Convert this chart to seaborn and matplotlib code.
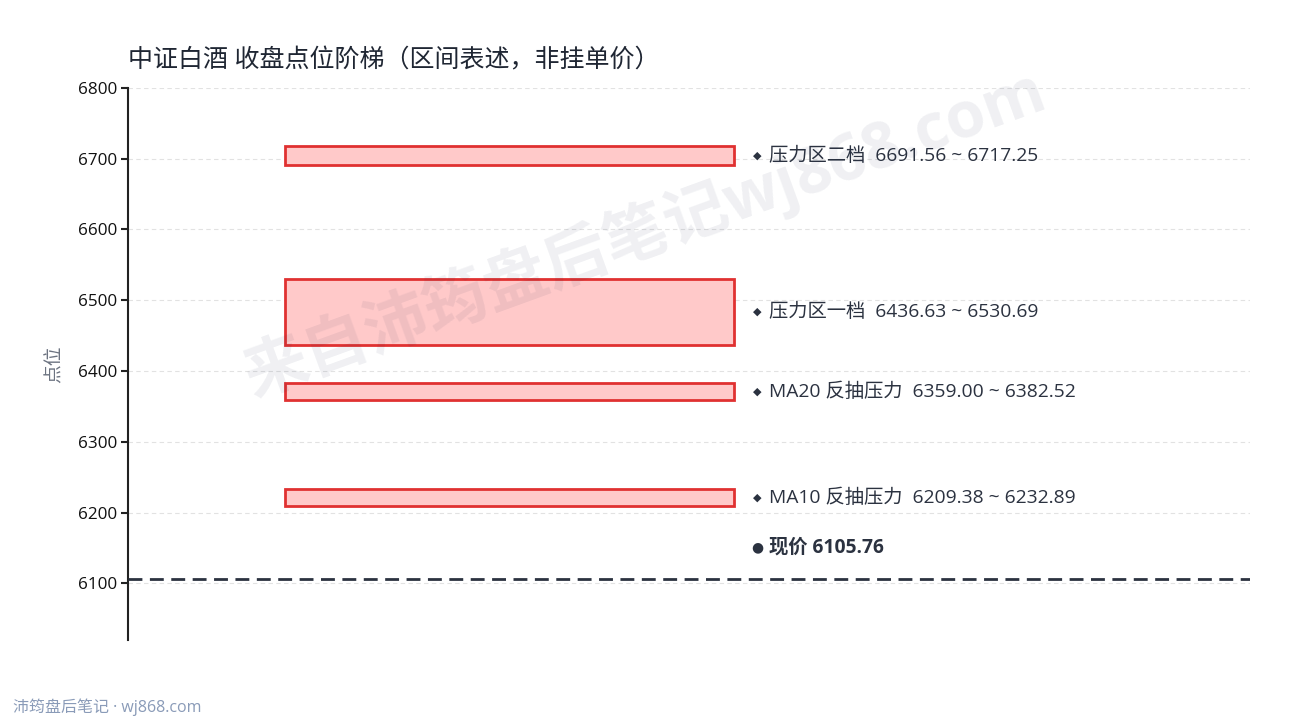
import seaborn as sns
import numpy as np
import matplotlib.pyplot as plt

# 区间数据
zone_names = ["压力区二档", "压力区一档", "MA20 反抽压力", "MA10 反抽压力"]
zone_low = [6691.56, 6436.63, 6359.00, 6209.38]
zone_high = [6717.25, 6530.69, 6382.52, 6232.89]
price = 6105.76
y_ticks = [6100, 6200, 6300, 6400, 6500, 6600, 6700, 6800]

sns.set_theme(style="white")
fams = ['Open Sans', 'Noto Sans CJK SC', 'DejaVu Sans']
plt.rcParams['font.family'] = fams
plt.rcParams['axes.unicode_minus'] = False

ink = "#2b3240"
fig = plt.figure(figsize=(12.9, 7.2), dpi=100)
ax = fig.add_axes([0.0992, 0.111, 0.8698, 0.767])

ax.set_xlim(0, 1)
ax.set_ylim(6020, 6800)
ax.set_yticks(y_ticks)
ax.yaxis.grid(True, color="#e2e2e2", linestyle=(0, (4, 3)), linewidth=0.8)
ax.set_axisbelow(True)

lows = np.array(zone_low)
highs = np.array(zone_high)
ax.bar(np.full(len(lows), 0.34), highs - lows, bottom=lows, width=0.4,
       color="#ffc9c9", edgecolor="#e03131", linewidth=2, zorder=2)

for name, lo, hi in zip(zone_names, lows, highs):
    mid = (lo + hi) / 2
    ax.text(0.5605, mid, "◆", fontsize=8, color=ink, va="center", ha="center",
            zorder=4, family=['DejaVu Sans'])
    ax.text(0.571, mid, f"{name}  {lo:.2f} ~ {hi:.2f}",
            fontsize=13.9, color=ink, va="center", ha="left", zorder=4)

ax.axhline(price, color=ink, linestyle=(0, (5, 2.7)), linewidth=2, zorder=3)
ax.text(0.5605, price + 45, "●", fontsize=10, color=ink, va="center",
        ha="center", zorder=4, family=['DejaVu Sans'])
ax.text(0.571, price + 45, f"现价 {price:.2f}", fontsize=13.9, fontweight="bold",
        color=ink, va="center", ha="left", zorder=4)

sns.despine(ax=ax, top=True, right=True, bottom=True)
ax.spines["left"].set_color("#222222")
ax.spines["left"].set_linewidth(1.5)
ax.set_xticks([])
ax.tick_params(axis="y", left=True, length=5, width=1.5, color="#222222",
               labelsize=12.3, labelcolor="#111111", pad=3)
ax.set_ylabel("点位", fontsize=13.5, color="#6b7280", labelpad=10)
ax.set_title("中证白酒 收盘点位阶梯（区间表述，非挂单价）", loc="left",
             fontsize=18, color="#1f2633", pad=15, x=0.0)

# 水印
fig.text(0.5, 0.675, "来自沛筠盘后笔记wj868.com", fontsize=46, fontweight="bold",
         color="#1e2a50", alpha=0.07, rotation=20, ha="center", va="center",
         zorder=10)
fig.text(0.01, 0.006, "沛筠盘后笔记 · wj868.com", fontsize=11.5, color="#8a9bb8",
         ha="left", va="bottom")

fig.savefig("out.png", dpi=100)
